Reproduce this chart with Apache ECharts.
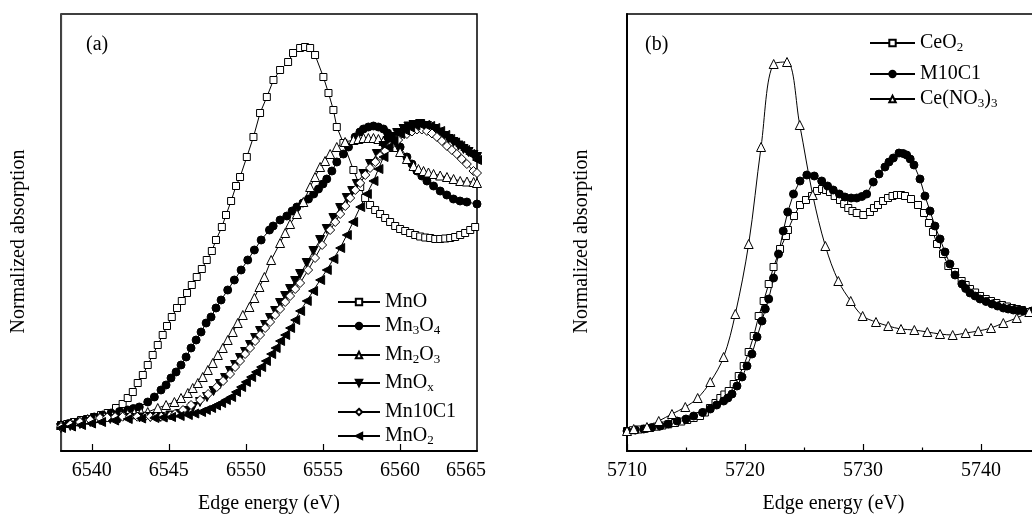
<!DOCTYPE html>
<html><head><meta charset="utf-8">
<script src="https://cdn.jsdelivr.net/npm/echarts@6/dist/echarts.min.js"></script>
<style>html,body{margin:0;padding:0;background:#fff}#c{width:1032px;height:517px}</style>
</head><body><div id="c"></div>
<script>
// ---------- tick / label values ----------
const ticksA = [6540, 6545, 6550, 6555, 6560];
const labelsA = [6540, 6545, 6550, 6555, 6560, 6565];
const majorB = [5710, 5720, 5730, 5740];
const minorB = [5715, 5725, 5735];

// ---------- panel (a): Mn K-edge, [energy eV, normalized absorption] ----------
const MnO = [[6538.00,0.26],[6538.40,0.27],[6538.84,0.29],[6539.30,0.31],[6539.70,0.32],[6540.14,0.34],[6540.60,0.36],[6541.03,0.38],[6541.57,0.43],[6542.00,0.47],[6542.33,0.53],[6542.66,0.59],[6542.98,0.68],[6543.31,0.76],[6543.63,0.86],[6543.95,0.96],[6544.28,1.06],[6544.60,1.16],[6544.88,1.25],[6545.19,1.34],[6545.53,1.43],[6545.84,1.50],[6546.18,1.58],[6546.49,1.66],[6546.81,1.74],[6547.14,1.82],[6547.46,1.91],[6547.79,2.00],[6548.06,2.11],[6548.44,2.24],[6548.71,2.36],[6549.04,2.50],[6549.36,2.65],[6549.62,2.74],[6550.06,2.94],[6550.49,3.14],[6550.92,3.38],[6551.36,3.54],[6551.79,3.71],[6552.22,3.81],[6552.74,3.89],[6553.06,3.98],[6553.52,4.03],[6553.84,4.04],[6554.17,4.03],[6554.49,3.96],[6555.03,3.74],[6555.36,3.58],[6555.68,3.41],[6555.90,3.24],[6556.33,3.08],[6556.98,2.81],[6557.42,2.64],[6557.74,2.53],[6558.06,2.46],[6558.39,2.41],[6558.71,2.37],[6559.04,2.33],[6559.36,2.29],[6559.69,2.25],[6560.01,2.22],[6560.34,2.20],[6560.66,2.18],[6560.99,2.16],[6561.31,2.145],[6561.64,2.135],[6561.96,2.13],[6562.29,2.12],[6562.61,2.12],[6562.94,2.125],[6563.26,2.13],[6563.58,2.14],[6563.91,2.16],[6564.23,2.18],[6564.56,2.21],[6564.88,2.24]];
const Mn3O4 = [[6538.00,0.26],[6538.50,0.275],[6539.08,0.29],[6539.60,0.315],[6540.16,0.34],[6540.70,0.36],[6541.25,0.38],[6541.80,0.395],[6542.33,0.41],[6542.70,0.425],[6543.08,0.44],[6543.63,0.49],[6544.06,0.54],[6544.49,0.61],[6544.82,0.66],[6545.14,0.73],[6545.47,0.79],[6545.79,0.86],[6546.12,0.94],[6546.44,1.03],[6546.77,1.11],[6547.09,1.19],[6547.42,1.28],[6547.74,1.34],[6548.06,1.43],[6548.39,1.51],[6548.82,1.61],[6549.25,1.71],[6549.69,1.81],[6550.12,1.91],[6550.55,2.01],[6550.99,2.11],[6551.53,2.21],[6551.77,2.25],[6552.22,2.31],[6552.66,2.35],[6553.00,2.40],[6553.31,2.44],[6553.70,2.48],[6554.06,2.52],[6554.40,2.57],[6554.71,2.62],[6555.00,2.67],[6555.25,2.72],[6555.58,2.80],[6555.90,2.89],[6556.33,2.97],[6556.66,3.04],[6557.09,3.14],[6557.40,3.19],[6557.63,3.22],[6557.95,3.24],[6558.28,3.25],[6558.60,3.24],[6558.93,3.22],[6559.20,3.18],[6559.47,3.14],[6559.75,3.09],[6560.01,3.04],[6560.45,2.94],[6560.78,2.87],[6561.10,2.80],[6561.42,2.75],[6561.75,2.70],[6562.18,2.65],[6562.61,2.60],[6563.04,2.56],[6563.47,2.52],[6563.90,2.50],[6564.34,2.49],[6565.00,2.47]];
const Mn2O3 = [[6538.00,0.26],[6538.65,0.28],[6539.20,0.30],[6539.73,0.32],[6540.27,0.33],[6540.81,0.34],[6541.35,0.35],[6541.90,0.36],[6542.33,0.37],[6542.76,0.38],[6543.20,0.385],[6543.63,0.39],[6544.28,0.43],[6544.82,0.46],[6545.36,0.49],[6545.79,0.53],[6546.23,0.58],[6546.55,0.63],[6546.88,0.68],[6547.20,0.74],[6547.53,0.81],[6547.85,0.88],[6548.18,0.96],[6548.50,1.03],[6548.82,1.11],[6549.15,1.19],[6549.47,1.28],[6549.80,1.36],[6550.23,1.44],[6550.55,1.53],[6550.88,1.64],[6551.20,1.74],[6551.64,1.91],[6552.22,2.08],[6552.55,2.18],[6552.87,2.27],[6553.31,2.37],[6553.73,2.49],[6554.17,2.64],[6554.49,2.74],[6554.82,2.84],[6555.14,2.90],[6555.47,2.97],[6555.90,3.04],[6556.44,3.09],[6556.98,3.11],[6557.30,3.12],[6557.63,3.13],[6557.95,3.13],[6558.28,3.13],[6558.60,3.12],[6558.93,3.10],[6559.25,3.07],[6559.58,3.04],[6560.01,2.99],[6560.45,2.92],[6560.88,2.85],[6561.20,2.82],[6561.53,2.80],[6561.85,2.785],[6562.18,2.77],[6562.61,2.755],[6563.05,2.74],[6563.48,2.72],[6563.91,2.70],[6564.35,2.695],[6564.78,2.69],[6565.00,2.68]];
const MnOx = [[6538.00,0.23],[6538.60,0.25],[6539.23,0.27],[6539.90,0.29],[6540.53,0.31],[6541.20,0.32],[6541.80,0.325],[6542.48,0.33],[6543.10,0.335],[6543.80,0.34],[6544.43,0.34],[6545.10,0.355],[6545.73,0.37],[6546.15,0.40],[6546.57,0.44],[6547.02,0.49],[6547.48,0.54],[6547.90,0.60],[6548.32,0.67],[6548.65,0.73],[6548.97,0.80],[6549.30,0.86],[6549.62,0.93],[6549.95,0.99],[6550.27,1.06],[6550.60,1.13],[6550.92,1.20],[6551.25,1.26],[6551.57,1.33],[6551.90,1.40],[6552.22,1.48],[6552.55,1.55],[6552.87,1.62],[6553.20,1.70],[6553.52,1.77],[6553.95,1.88],[6554.38,2.00],[6554.82,2.11],[6555.25,2.22],[6555.68,2.33],[6556.12,2.43],[6556.55,2.53],[6556.90,2.60],[6557.20,2.67],[6557.63,2.77],[6558.06,2.87],[6558.50,2.97],[6558.93,3.05],[6559.20,3.10],[6559.47,3.14],[6559.82,3.18],[6560.23,3.22],[6560.55,3.245],[6560.88,3.26],[6561.31,3.27],[6561.75,3.25],[6562.18,3.22],[6562.50,3.185],[6562.82,3.15],[6563.15,3.12],[6563.47,3.09],[6563.80,3.055],[6564.12,3.02],[6564.45,2.99],[6564.77,2.96],[6565.00,2.94]];
const Mn10C1 = [[6538.00,0.24],[6538.60,0.265],[6539.23,0.29],[6539.90,0.31],[6540.53,0.33],[6541.00,0.335],[6541.51,0.34],[6542.00,0.343],[6542.48,0.343],[6542.95,0.343],[6543.45,0.343],[6543.80,0.343],[6544.17,0.343],[6544.50,0.343],[6544.82,0.343],[6545.10,0.355],[6545.40,0.37],[6545.92,0.41],[6546.44,0.46],[6547.03,0.51],[6547.55,0.57],[6548.11,0.64],[6548.52,0.70],[6548.97,0.77],[6549.30,0.84],[6549.62,0.90],[6549.95,0.97],[6550.27,1.03],[6550.60,1.10],[6550.92,1.16],[6551.25,1.23],[6551.57,1.29],[6551.90,1.36],[6552.22,1.42],[6552.55,1.49],[6552.87,1.55],[6553.20,1.62],[6553.52,1.68],[6554.04,1.81],[6554.49,1.93],[6554.95,2.06],[6555.47,2.21],[6555.80,2.29],[6556.12,2.37],[6556.45,2.45],[6556.77,2.53],[6557.10,2.61],[6557.42,2.68],[6557.75,2.76],[6558.06,2.83],[6558.40,2.89],[6558.71,2.95],[6559.04,3.00],[6559.36,3.05],[6559.88,3.11],[6560.45,3.17],[6560.78,3.195],[6561.10,3.215],[6561.42,3.215],[6561.75,3.20],[6562.08,3.175],[6562.40,3.14],[6562.72,3.10],[6563.05,3.05],[6563.37,3.01],[6563.69,2.97],[6564.01,2.92],[6564.34,2.87],[6564.77,2.80],[6565.00,2.78]];
const MnO2 = [[6538.00,0.23],[6538.65,0.245],[6539.30,0.26],[6539.95,0.275],[6540.60,0.29],[6541.45,0.305],[6542.33,0.32],[6543.20,0.325],[6544.06,0.33],[6544.60,0.335],[6545.14,0.34],[6545.70,0.35],[6546.23,0.36],[6546.65,0.375],[6547.09,0.39],[6547.40,0.41],[6547.74,0.43],[6548.06,0.455],[6548.39,0.48],[6548.70,0.51],[6549.04,0.54],[6549.36,0.59],[6549.69,0.64],[6550.00,0.69],[6550.34,0.74],[6550.66,0.79],[6550.99,0.84],[6551.30,0.90],[6551.64,0.97],[6551.93,1.03],[6552.22,1.10],[6552.55,1.16],[6552.87,1.23],[6553.20,1.31],[6553.52,1.40],[6553.95,1.50],[6554.36,1.60],[6554.82,1.71],[6555.25,1.81],[6555.68,1.92],[6556.12,2.03],[6556.55,2.16],[6556.96,2.29],[6557.42,2.44],[6557.85,2.57],[6558.28,2.70],[6558.60,2.82],[6558.93,2.94],[6559.25,3.04],[6559.58,3.10],[6560.01,3.17],[6560.33,3.205],[6560.66,3.235],[6561.00,3.255],[6561.31,3.265],[6561.64,3.26],[6561.96,3.25],[6562.29,3.23],[6562.61,3.20],[6562.94,3.16],[6563.26,3.12],[6563.58,3.085],[6563.91,3.05],[6564.23,3.01],[6564.56,2.97],[6565.00,2.91]];

// ---------- panel (b): Ce L3-edge ----------
const CeO2 = [[5710.00,0.20],[5710.50,0.208],[5711.00,0.215],[5711.50,0.222],[5711.95,0.23],[5712.50,0.243],[5713.00,0.255],[5713.50,0.267],[5714.07,0.28],[5714.60,0.295],[5715.10,0.31],[5715.65,0.33],[5716.19,0.35],[5716.60,0.385],[5717.03,0.43],[5717.50,0.48],[5717.91,0.53],[5718.25,0.565],[5718.62,0.60],[5719.04,0.67],[5719.47,0.75],[5719.89,0.85],[5720.31,0.99],[5720.74,1.15],[5721.16,1.35],[5721.58,1.50],[5722.01,1.67],[5722.42,1.84],[5722.97,2.02],[5723.47,2.15],[5723.64,2.21],[5724.15,2.35],[5724.66,2.46],[5725.17,2.51],[5725.68,2.55],[5726.10,2.60],[5726.53,2.62],[5726.87,2.61],[5727.20,2.59],[5727.60,2.55],[5728.05,2.51],[5728.40,2.47],[5728.75,2.43],[5729.10,2.40],[5729.47,2.38],[5730.03,2.36],[5730.59,2.39],[5730.93,2.43],[5731.27,2.46],[5731.70,2.50],[5732.12,2.53],[5732.50,2.55],[5732.88,2.56],[5733.22,2.56],[5733.56,2.55],[5734.07,2.52],[5734.66,2.46],[5735.17,2.38],[5735.59,2.28],[5735.93,2.19],[5736.27,2.07],[5736.78,1.97],[5737.23,1.85],[5737.80,1.79],[5738.36,1.70],[5738.70,1.66],[5739.07,1.62],[5739.50,1.585],[5739.92,1.55],[5740.40,1.52],[5740.85,1.50],[5741.30,1.48],[5741.78,1.46],[5742.20,1.445],[5742.63,1.43],[5743.05,1.42],[5743.47,1.41],[5744.15,1.39]];
const M10C1 = [[5710.00,0.20],[5710.70,0.21],[5711.42,0.22],[5712.10,0.235],[5712.82,0.25],[5713.50,0.27],[5714.24,0.30],[5715.00,0.32],[5715.65,0.35],[5716.40,0.385],[5717.06,0.42],[5717.60,0.46],[5718.19,0.50],[5718.55,0.53],[5718.90,0.57],[5719.32,0.65],[5719.75,0.74],[5720.17,0.85],[5720.59,0.97],[5721.02,1.14],[5721.44,1.30],[5721.72,1.42],[5722.01,1.52],[5722.42,1.73],[5722.84,1.97],[5723.24,2.20],[5723.62,2.39],[5724.11,2.57],[5724.66,2.70],[5725.24,2.76],[5725.87,2.75],[5726.50,2.70],[5727.00,2.65],[5727.48,2.61],[5728.00,2.57],[5728.47,2.54],[5729.00,2.53],[5729.47,2.53],[5729.90,2.545],[5730.31,2.57],[5730.87,2.69],[5731.36,2.77],[5731.86,2.84],[5732.20,2.89],[5732.57,2.93],[5733.05,2.98],[5733.40,2.975],[5733.70,2.96],[5734.00,2.92],[5734.32,2.86],[5734.83,2.72],[5735.25,2.55],[5735.68,2.40],[5736.10,2.25],[5736.53,2.12],[5736.95,1.99],[5737.37,1.87],[5737.80,1.76],[5738.39,1.67],[5738.70,1.625],[5739.07,1.58],[5739.50,1.55],[5739.92,1.52],[5740.43,1.495],[5740.93,1.47],[5741.40,1.45],[5741.89,1.43],[5742.30,1.42],[5742.74,1.41],[5743.15,1.405],[5743.58,1.40],[5744.32,1.40]];
const CeNO3 = [[5710.00,0.20],[5710.57,0.22],[5711.69,0.24],[5712.69,0.30],[5713.81,0.37],[5714.94,0.44],[5715.99,0.53],[5717.06,0.69],[5718.19,0.94],[5719.18,1.37],[5720.31,2.07],[5721.36,3.04],[5722.43,3.87],[5723.56,3.89],[5724.64,3.26],[5725.74,2.56],[5726.81,2.05],[5727.91,1.70],[5728.96,1.50],[5729.97,1.35],[5731.10,1.29],[5732.14,1.25],[5733.22,1.22],[5734.35,1.21],[5735.45,1.19],[5736.53,1.17],[5737.60,1.16],[5738.70,1.18],[5739.77,1.20],[5740.85,1.23],[5741.89,1.28],[5743.03,1.33],[5744.09,1.39],[5745.00,1.43]];

const FONT = 'Liberation Serif';
const rich = {
  n: {fontFamily: FONT, fontSize: 20, color: '#000', lineHeight: 22},
  s: {fontFamily: FONT, fontSize: 13, color: '#000', lineHeight: 14, verticalAlign: 'bottom'}
};
const legendLabel = {
  'MnO': '{n|MnO}',
  'Mn3O4': '{n|Mn}{s|3}{n|O}{s|4}',
  'Mn2O3': '{n|Mn}{s|2}{n|O}{s|3}',
  'MnOx': '{n|MnO}{s|x}',
  'Mn10C1': '{n|Mn10C1}',
  'MnO2': '{n|MnO}{s|2}',
  'CeO2': '{n|CeO}{s|2}',
  'M10C1': '{n|M10C1}',
  'Ce(NO3)3': '{n|Ce(NO}{s|3}{n|)}{s|3}'
};

const downTri = 'path://M0,0 L10,0 L5,9 Z';
const leftTri = 'path://M9,0 L9,10 L0,5 Z';

function ser(name, data, grid, symbol, size, filled, extra) {
  return Object.assign({
    type: 'line', name: name, data: data,
    xAxisIndex: grid === 0 ? 0 : 1, yAxisIndex: grid,
    symbol: symbol, symbolSize: size, showSymbol: true,
    lineStyle: {color: '#000', width: 1},
    itemStyle: {color: filled ? '#000' : '#fff', borderColor: '#000', borderWidth: 1},
    emphasis: {disabled: true}, animation: false, clip: true
  }, extra || {});
}

function legend(name, left, top, w) {
  return {
    data: [name], left: left, top: top, orient: 'vertical', padding: 0,
    itemWidth: w, itemHeight: 8, itemGap: 0, selectedMode: false,
    formatter: n => legendLabel[n],
    textStyle: {fontFamily: FONT, fontSize: 20, color: '#000', rich: rich}
  };
}

function xAxisBase(grid) {
  return {
    type: 'value', gridIndex: grid, position: 'bottom',
    splitLine: {show: false},
    axisLine: {show: true, lineStyle: {color: '#000', width: 2}},
    name: 'Edge energy (eV)', nameLocation: 'middle', nameGap: 43,
    nameTextStyle: {fontFamily: FONT, fontSize: 20, color: '#000'}
  };
}

const chart = echarts.init(document.getElementById('c'), null, {renderer: 'canvas'});
chart.setOption({
  backgroundColor: '#fff',
  animation: false,
  grid: [
    {left: 61, top: 14, width: 416, height: 437, show: true, borderColor: '#000', borderWidth: 1.5, backgroundColor: 'transparent', containLabel: false, outerBoundsMode: 'none'},
    {left: 627, top: 14, width: 413, height: 437, show: true, borderColor: '#000', borderWidth: 1.5, backgroundColor: 'transparent', containLabel: false, outerBoundsMode: 'none'}
  ],
  xAxis: [
    Object.assign(xAxisBase(0), {
      min: 6538, max: 6565,
      axisTick: {show: true, inside: true, length: 7, customValues: ticksA, lineStyle: {color: '#000', width: 1.2}},
      axisLabel: {show: true, margin: 10, customValues: labelsA, fontFamily: FONT, fontSize: 20, color: '#000',
        formatter: v => v === 6565 ? '{r|6565}' : String(v),
        rich: {r: {fontFamily: FONT, fontSize: 20, color: '#000', padding: [0, 22, 0, 0]}}}
    }),
    Object.assign(xAxisBase(1), {
      min: 5710, max: 5745,
      axisTick: {show: true, inside: true, length: 7, customValues: majorB, lineStyle: {color: '#000', width: 1.2}},
      axisLabel: {show: true, margin: 10, customValues: majorB, fontFamily: FONT, fontSize: 20, color: '#000',
        formatter: v => String(v)}
    }),
    {
      type: 'value', gridIndex: 1, position: 'bottom', min: 5710, max: 5745,
      splitLine: {show: false}, axisLine: {show: false}, axisLabel: {show: false},
      axisTick: {show: true, inside: true, length: 3.5, customValues: minorB, lineStyle: {color: '#000', width: 1.2}}
    }
  ],
  yAxis: [
    {type: 'value', gridIndex: 0, min: 0, max: 4.37, splitLine: {show: false}, axisTick: {show: false}, axisLabel: {show: false},
      axisLine: {show: true, lineStyle: {color: '#444', width: 1.2}},
      name: 'Normalized absorption', nameLocation: 'middle', nameGap: 32,
      nameTextStyle: {fontFamily: FONT, fontSize: 20, color: '#000', padding: [0, 18, 0, 0]}},
    {type: 'value', gridIndex: 1, min: 0, max: 4.37, splitLine: {show: false}, axisTick: {show: false}, axisLabel: {show: false},
      axisLine: {show: true, lineStyle: {color: '#000', width: 2}},
      name: 'Normalized absorption', nameLocation: 'middle', nameGap: 35,
      nameTextStyle: {fontFamily: FONT, fontSize: 20, color: '#000', padding: [0, 18, 0, 0]}}
  ],
  legend: [
    legend('MnO', 337, 292, 42),
    legend('Mn3O4', 337, 316, 42),
    legend('Mn2O3', 337, 345, 42),
    legend('MnOx', 337, 373, 42),
    legend('Mn10C1', 337, 402, 42),
    legend('MnO2', 337, 426, 42),
    legend('CeO2', 869, 33, 45),
    legend('M10C1', 869, 64, 45),
    legend('Ce(NO3)3', 869, 89, 45)
  ],
  graphic: [
    {type: 'text', left: 86, top: 35, style: {text: '(a)', font: '20px "Liberation Serif"', fill: '#000'}},
    {type: 'text', left: 645, top: 35, style: {text: '(b)', font: '20px "Liberation Serif"', fill: '#000'}}
  ],
  series: [
    ser('MnO', MnO, 0, 'rect', 7, false),
    ser('Mn3O4', Mn3O4, 0, 'circle', 8, true),
    ser('Mn2O3', Mn2O3, 0, 'triangle', 9, false),
    ser('MnOx', MnOx, 0, downTri, 9, true),
    ser('Mn10C1', Mn10C1, 0, 'diamond', 9, false),
    ser('MnO2', MnO2, 0, leftTri, 9, true),
    ser('CeO2', CeO2, 1, 'rect', 7, false, {xAxisIndex: 1}),
    ser('M10C1', M10C1, 1, 'circle', 8, true, {xAxisIndex: 1}),
    ser('Ce(NO3)3', CeNO3, 1, 'triangle', 9, false, {xAxisIndex: 1, smooth: 0.35})
  ]
});
</script>
</body></html>
